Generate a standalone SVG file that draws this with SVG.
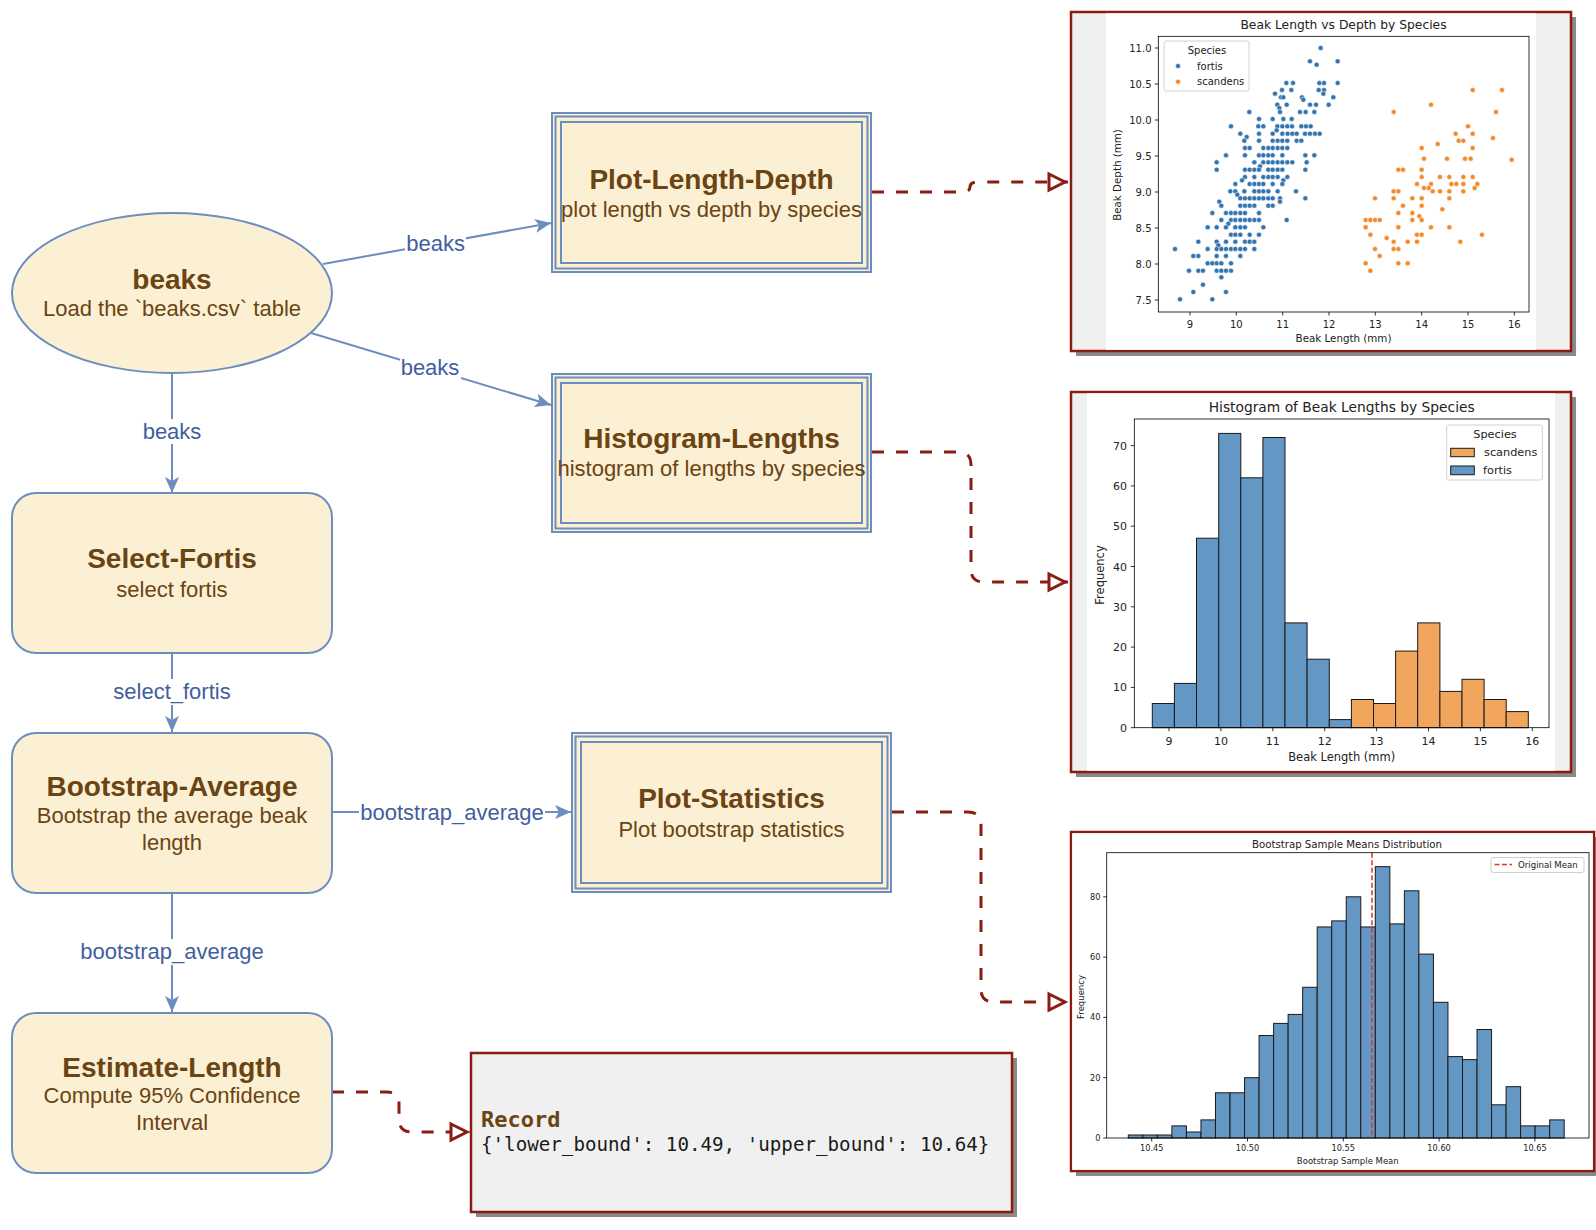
<svg xmlns="http://www.w3.org/2000/svg" width="1596" height="1230" viewBox="0 0 1596 1230">
<defs>
<style>
.nf{fill:#fcf0d4;stroke:#6c8ebf;stroke-width:2}
.nl{fill:none;stroke:#6c8ebf;stroke-width:2}
.t{font-family:"Liberation Sans",Arial,sans-serif;fill:#6b4413;text-anchor:middle}
.tb{font-size:28px;font-weight:bold}
.ts{font-size:22px}
.el{font-family:"Liberation Sans",Arial,sans-serif;font-size:22px;fill:#3f5f9f;text-anchor:middle}
.lb{fill:#fff}
.e{fill:none;stroke:#6c8ebf;stroke-width:2}
.d{fill:none;stroke:#8b1c13;stroke-width:3;stroke-dasharray:12 12}
.fr{fill:#f0f0f0;stroke:#8b1c13;stroke-width:2.5}
.sh{fill:#8a8a8a}
.m{font-family:"DejaVu Sans",sans-serif;fill:#222}
.ax{fill:none;stroke:#000;stroke-width:0.8}
.bf{fill:#6497c4;stroke:#1a1a1a;stroke-width:1}
.bs{fill:#f2a55c;stroke:#1a1a1a;stroke-width:1}
.pb{fill:#3274b0;stroke:#fff;stroke-width:1.5}
.po{fill:#f28a2c;stroke:#fff;stroke-width:1.5}
.lg{fill:#fff;stroke:#d0d0d0;stroke-width:1}
</style>
<marker id="arr" markerUnits="userSpaceOnUse" viewBox="0 0 16 14" refX="16" refY="7" markerWidth="16" markerHeight="14" orient="auto"><path d="M0,0 L16,7 L0,14 L4,7 Z" fill="#6c8ebf"/></marker>
<marker id="tri" markerUnits="userSpaceOnUse" viewBox="-4 -4 26 24" refX="19" refY="8" markerWidth="26" markerHeight="24" orient="auto" overflow="visible"><path d="M0,0 L16,8 L0,16 Z" fill="#fff" stroke="#8b1c13" stroke-width="3"/></marker>
<clipPath id="cb"><rect x="1072.25" y="833.25" width="520.5" height="336.5"/></clipPath>
</defs>
<rect width="1596" height="1230" fill="#fff"/>

<!-- connectors -->
<g id="connectors">
<path class="e" d="M323,264 L551,223" marker-end="url(#arr)"/>
<path class="e" d="M311,333 L551,405" marker-end="url(#arr)"/>
<path class="e" d="M172,373 V493" marker-end="url(#arr)"/>
<path class="e" d="M172,653 V732" marker-end="url(#arr)"/>
<path class="e" d="M332,812 H571" marker-end="url(#arr)"/>
<path class="e" d="M172,893 V1012" marker-end="url(#arr)"/>
<rect class="lb" x="405" y="231" width="61" height="25"/>
<text class="el" x="435.6" y="251">beaks</text>
<rect class="lb" x="400" y="355" width="61" height="25"/>
<text class="el" x="430" y="375">beaks</text>
<rect class="lb" x="141" y="419" width="62" height="25"/>
<text class="el" x="172" y="439">beaks</text>
<rect class="lb" x="112" y="679" width="120" height="26"/>
<text class="el" x="172" y="699">select_fortis</text>
<rect class="lb" x="359" y="800" width="186" height="26"/>
<text class="el" x="452" y="820">bootstrap_average</text>
<rect class="lb" x="79" y="939" width="186" height="26"/>
<text class="el" x="172" y="959">bootstrap_average</text>
<path class="d" d="M872,192 H962 Q970,192 970,187 Q970,182 978,182 H1068" marker-end="url(#tri)"/>
<path class="d" d="M872,452 H958 Q971,452 971,465 V569 Q971,582 984,582 H1068" marker-end="url(#tri)"/>
<path class="d" d="M892,812 H968 Q981,812 981,825 V989 Q981,1002 994,1002 H1068" marker-end="url(#tri)"/>
<path class="d" d="M332,1092 H387 Q399,1092 399,1104 V1119 Q399,1132 412,1132 H470" marker-end="url(#tri)"/>
</g>

<g id="node-beaks">
<ellipse class="nf" cx="172" cy="293" rx="160" ry="80"/>
<text class="t tb" x="172" y="289">beaks</text>
<text class="t ts" x="172" y="316">Load the `beaks.csv` table</text>
</g>

<g id="node-select-fortis">
<rect class="nf" x="12" y="493" width="320" height="160" rx="24"/>
<text class="t tb" x="172" y="568">Select-Fortis</text>
<text class="t ts" x="172" y="597">select fortis</text>
</g>

<g id="node-bootstrap-average">
<rect class="nf" x="12" y="733" width="320" height="160" rx="24"/>
<text class="t tb" x="172" y="796">Bootstrap-Average</text>
<text class="t ts" x="172" y="823">Bootstrap the average beak</text>
<text class="t ts" x="172" y="850">length</text>
</g>

<g id="node-estimate-length">
<rect class="nf" x="12" y="1013" width="320" height="160" rx="24"/>
<text class="t tb" x="172" y="1077">Estimate-Length</text>
<text class="t ts" x="172" y="1103">Compute 95% Confidence</text>
<text class="t ts" x="172" y="1130">Interval</text>
</g>

<g id="node-plot-length-depth">
<rect class="nf" x="552" y="113" width="319" height="159"/>
<rect class="nl" x="555.5" y="116.5" width="312" height="152"/>
<rect class="nl" x="561" y="122" width="301" height="141"/>
<text class="t tb" x="711.5" y="189">Plot-Length-Depth</text>
<text class="t ts" x="711.5" y="217">plot length vs depth by species</text>
</g>

<g id="node-histogram-lengths">
<rect class="nf" x="552" y="374" width="319" height="158"/>
<rect class="nl" x="555.5" y="377.5" width="312" height="151"/>
<rect class="nl" x="561" y="383" width="301" height="140"/>
<text class="t tb" x="711.5" y="448">Histogram-Lengths</text>
<text class="t ts" x="711.5" y="476">histogram of lengths by species</text>
</g>

<g id="node-plot-statistics">
<rect class="nf" x="572" y="733" width="319" height="159"/>
<rect class="nl" x="575.5" y="736.5" width="312" height="152"/>
<rect class="nl" x="581" y="742" width="301" height="141"/>
<text class="t tb" x="731.5" y="808">Plot-Statistics</text>
<text class="t ts" x="731.5" y="837">Plot bootstrap statistics</text>
</g>

<g id="node-record">
<rect class="sh" x="476" y="1058" width="541" height="159"/>
<rect class="fr" x="471" y="1053" width="541" height="159"/>
<text x="481" y="1127" style="font-family:'DejaVu Sans Mono',monospace;font-size:22px;font-weight:bold;fill:#6b4413">Record</text>
<text x="481" y="1151" style="font-family:'DejaVu Sans Mono',monospace;font-size:19.2px;fill:#1a1a1a">{'lower_bound': 10.49, 'upper_bound': 10.64}</text>
</g>

<g id="node-scatter-plot">
<rect class="sh" x="1076" y="17" width="500" height="339"/>
<rect class="fr" x="1071" y="12" width="500" height="339"/>
<rect fill="#fff" x="1106" y="13.3" width="430" height="336.4"/>
<text class="m" x="1343.5" y="29" font-size="12.3" text-anchor="middle">Beak Length vs Depth by Species</text>
<g transform="translate(1050,8) scale(0.333333)">
<g class="pb">
<circle cx="812" cy="120" r="7.5"/><circle cx="780" cy="160" r="7.5"/><circle cx="863" cy="160" r="7.5"/><circle cx="800" cy="170" r="7.5"/>
<circle cx="709" cy="225" r="7.5"/><circle cx="729" cy="225" r="7.5"/><circle cx="808" cy="225" r="7.5"/><circle cx="822" cy="225" r="7.5"/><circle cx="863" cy="225" r="7.5"/>
<circle cx="696" cy="246" r="7.5"/><circle cx="724" cy="246" r="7.5"/><circle cx="806" cy="246" r="7.5"/><circle cx="822" cy="246" r="7.5"/>
<circle cx="675" cy="257" r="7.5"/><circle cx="820" cy="257" r="7.5"/>
<circle cx="693" cy="268" r="7.5"/><circle cx="700" cy="268" r="7.5"/><circle cx="756" cy="268" r="7.5"/><circle cx="850" cy="268" r="7.5"/><circle cx="760" cy="275" r="7.5"/>
<circle cx="682" cy="290" r="7.5"/><circle cx="710" cy="290" r="7.5"/><circle cx="780" cy="290" r="7.5"/><circle cx="798" cy="290" r="7.5"/><circle cx="836" cy="290" r="7.5"/><circle cx="688" cy="300" r="7.5"/>
<circle cx="598" cy="312" r="7.5"/><circle cx="690" cy="312" r="7.5"/><circle cx="750" cy="312" r="7.5"/><circle cx="767" cy="312" r="7.5"/><circle cx="793" cy="312" r="7.5"/>
<circle cx="627" cy="333" r="7.5"/><circle cx="668" cy="333" r="7.5"/><circle cx="700" cy="333" r="7.5"/><circle cx="725" cy="333" r="7.5"/>
<circle cx="543" cy="355" r="7.5"/><circle cx="625" cy="355" r="7.5"/><circle cx="640" cy="355" r="7.5"/><circle cx="682" cy="355" r="7.5"/><circle cx="697" cy="355" r="7.5"/><circle cx="712" cy="355" r="7.5"/><circle cx="726" cy="355" r="7.5"/><circle cx="754" cy="355" r="7.5"/><circle cx="768" cy="355" r="7.5"/><circle cx="782" cy="355" r="7.5"/><circle cx="680" cy="367" r="7.5"/>
<circle cx="571" cy="377" r="7.5"/><circle cx="627" cy="377" r="7.5"/><circle cx="668" cy="377" r="7.5"/><circle cx="697" cy="377" r="7.5"/><circle cx="713" cy="377" r="7.5"/><circle cx="727" cy="377" r="7.5"/><circle cx="740" cy="377" r="7.5"/><circle cx="765" cy="377" r="7.5"/><circle cx="780" cy="377" r="7.5"/><circle cx="795" cy="377" r="7.5"/><circle cx="809" cy="377" r="7.5"/><circle cx="590" cy="387" r="7.5"/>
<circle cx="583" cy="398" r="7.5"/><circle cx="627" cy="398" r="7.5"/><circle cx="668" cy="398" r="7.5"/><circle cx="683" cy="398" r="7.5"/><circle cx="697" cy="398" r="7.5"/><circle cx="712" cy="398" r="7.5"/><circle cx="740" cy="398" r="7.5"/><circle cx="754" cy="398" r="7.5"/>
<circle cx="585" cy="420" r="7.5"/><circle cx="599" cy="420" r="7.5"/><circle cx="640" cy="420" r="7.5"/><circle cx="655" cy="420" r="7.5"/><circle cx="668" cy="420" r="7.5"/><circle cx="683" cy="420" r="7.5"/><circle cx="697" cy="420" r="7.5"/><circle cx="712" cy="420" r="7.5"/>
<circle cx="528" cy="442" r="7.5"/><circle cx="585" cy="442" r="7.5"/><circle cx="627" cy="442" r="7.5"/><circle cx="640" cy="442" r="7.5"/><circle cx="655" cy="442" r="7.5"/><circle cx="668" cy="442" r="7.5"/><circle cx="697" cy="442" r="7.5"/><circle cx="766" cy="442" r="7.5"/><circle cx="793" cy="442" r="7.5"/>
<circle cx="500" cy="463" r="7.5"/><circle cx="613" cy="463" r="7.5"/><circle cx="640" cy="463" r="7.5"/><circle cx="655" cy="463" r="7.5"/><circle cx="668" cy="463" r="7.5"/><circle cx="683" cy="463" r="7.5"/><circle cx="697" cy="463" r="7.5"/><circle cx="712" cy="463" r="7.5"/><circle cx="727" cy="463" r="7.5"/><circle cx="770" cy="463" r="7.5"/><circle cx="630" cy="475" r="7.5"/>
<circle cx="500" cy="485" r="7.5"/><circle cx="585" cy="485" r="7.5"/><circle cx="599" cy="485" r="7.5"/><circle cx="613" cy="485" r="7.5"/><circle cx="627" cy="485" r="7.5"/><circle cx="655" cy="485" r="7.5"/><circle cx="668" cy="485" r="7.5"/><circle cx="683" cy="485" r="7.5"/><circle cx="697" cy="485" r="7.5"/><circle cx="766" cy="485" r="7.5"/>
<circle cx="585" cy="507" r="7.5"/><circle cx="613" cy="507" r="7.5"/><circle cx="640" cy="507" r="7.5"/><circle cx="655" cy="507" r="7.5"/><circle cx="668" cy="507" r="7.5"/><circle cx="683" cy="507" r="7.5"/><circle cx="712" cy="507" r="7.5"/><circle cx="576" cy="517" r="7.5"/><circle cx="700" cy="517" r="7.5"/>
<circle cx="556" cy="528" r="7.5"/><circle cx="599" cy="528" r="7.5"/><circle cx="613" cy="528" r="7.5"/><circle cx="627" cy="528" r="7.5"/><circle cx="640" cy="528" r="7.5"/><circle cx="668" cy="528" r="7.5"/><circle cx="697" cy="528" r="7.5"/>
<circle cx="541" cy="550" r="7.5"/><circle cx="556" cy="550" r="7.5"/><circle cx="583" cy="550" r="7.5"/><circle cx="613" cy="550" r="7.5"/><circle cx="627" cy="550" r="7.5"/><circle cx="640" cy="550" r="7.5"/><circle cx="655" cy="550" r="7.5"/><circle cx="683" cy="550" r="7.5"/><circle cx="738" cy="550" r="7.5"/><circle cx="562" cy="560" r="7.5"/>
<circle cx="571" cy="571" r="7.5"/><circle cx="585" cy="571" r="7.5"/><circle cx="599" cy="571" r="7.5"/><circle cx="613" cy="571" r="7.5"/><circle cx="627" cy="571" r="7.5"/><circle cx="640" cy="571" r="7.5"/><circle cx="655" cy="571" r="7.5"/><circle cx="668" cy="571" r="7.5"/><circle cx="690" cy="571" r="7.5"/><circle cx="766" cy="571" r="7.5"/><circle cx="508" cy="581" r="7.5"/><circle cx="690" cy="581" r="7.5"/>
<circle cx="514" cy="593" r="7.5"/><circle cx="571" cy="593" r="7.5"/><circle cx="585" cy="593" r="7.5"/><circle cx="599" cy="593" r="7.5"/><circle cx="613" cy="593" r="7.5"/><circle cx="655" cy="593" r="7.5"/><circle cx="668" cy="593" r="7.5"/>
<circle cx="487" cy="615" r="7.5"/><circle cx="528" cy="615" r="7.5"/><circle cx="543" cy="615" r="7.5"/><circle cx="556" cy="615" r="7.5"/><circle cx="571" cy="615" r="7.5"/><circle cx="585" cy="615" r="7.5"/><circle cx="627" cy="615" r="7.5"/>
<circle cx="514" cy="636" r="7.5"/><circle cx="543" cy="636" r="7.5"/><circle cx="556" cy="636" r="7.5"/><circle cx="571" cy="636" r="7.5"/><circle cx="585" cy="636" r="7.5"/><circle cx="599" cy="636" r="7.5"/><circle cx="613" cy="636" r="7.5"/><circle cx="627" cy="636" r="7.5"/><circle cx="710" cy="636" r="7.5"/><circle cx="535" cy="647" r="7.5"/>
<circle cx="473" cy="658" r="7.5"/><circle cx="500" cy="658" r="7.5"/><circle cx="528" cy="658" r="7.5"/><circle cx="556" cy="658" r="7.5"/><circle cx="571" cy="658" r="7.5"/><circle cx="585" cy="658" r="7.5"/><circle cx="640" cy="658" r="7.5"/>
<circle cx="543" cy="680" r="7.5"/><circle cx="556" cy="680" r="7.5"/><circle cx="571" cy="680" r="7.5"/><circle cx="599" cy="680" r="7.5"/><circle cx="627" cy="680" r="7.5"/>
<circle cx="445" cy="701" r="7.5"/><circle cx="500" cy="701" r="7.5"/><circle cx="528" cy="701" r="7.5"/><circle cx="556" cy="701" r="7.5"/><circle cx="585" cy="701" r="7.5"/><circle cx="599" cy="701" r="7.5"/><circle cx="613" cy="701" r="7.5"/><circle cx="505" cy="712" r="7.5"/>
<circle cx="375" cy="723" r="7.5"/><circle cx="473" cy="723" r="7.5"/><circle cx="500" cy="723" r="7.5"/><circle cx="514" cy="723" r="7.5"/><circle cx="528" cy="723" r="7.5"/><circle cx="543" cy="723" r="7.5"/><circle cx="556" cy="723" r="7.5"/><circle cx="571" cy="723" r="7.5"/><circle cx="585" cy="723" r="7.5"/><circle cx="613" cy="723" r="7.5"/>
<circle cx="430" cy="744" r="7.5"/><circle cx="445" cy="744" r="7.5"/><circle cx="500" cy="744" r="7.5"/><circle cx="528" cy="744" r="7.5"/><circle cx="571" cy="744" r="7.5"/>
<circle cx="473" cy="766" r="7.5"/><circle cx="487" cy="766" r="7.5"/><circle cx="500" cy="766" r="7.5"/><circle cx="514" cy="766" r="7.5"/><circle cx="543" cy="766" r="7.5"/>
<circle cx="417" cy="788" r="7.5"/><circle cx="445" cy="788" r="7.5"/><circle cx="459" cy="788" r="7.5"/><circle cx="500" cy="788" r="7.5"/><circle cx="514" cy="788" r="7.5"/><circle cx="528" cy="788" r="7.5"/><circle cx="543" cy="788" r="7.5"/><circle cx="514" cy="808" r="7.5"/>
<circle cx="459" cy="830" r="7.5"/><circle cx="430" cy="852" r="7.5"/><circle cx="528" cy="852" r="7.5"/><circle cx="390" cy="874" r="7.5"/><circle cx="487" cy="874" r="7.5"/>
</g>
<g class="po">
<circle cx="1268" cy="246" r="7.5"/><circle cx="1356" cy="246" r="7.5"/><circle cx="1143" cy="290" r="7.5"/><circle cx="1031" cy="312" r="7.5"/><circle cx="1338" cy="312" r="7.5"/>
<circle cx="1254" cy="355" r="7.5"/><circle cx="1217" cy="377" r="7.5"/><circle cx="1268" cy="377" r="7.5"/><circle cx="1329" cy="390" r="7.5"/><circle cx="1226" cy="398" r="7.5"/><circle cx="1240" cy="398" r="7.5"/><circle cx="1163" cy="408" r="7.5"/>
<circle cx="1115" cy="420" r="7.5"/><circle cx="1268" cy="420" r="7.5"/>
<circle cx="1122" cy="452" r="7.5"/><circle cx="1191" cy="452" r="7.5"/><circle cx="1245" cy="452" r="7.5"/><circle cx="1262" cy="452" r="7.5"/><circle cx="1385" cy="455" r="7.5"/>
<circle cx="1045" cy="485" r="7.5"/><circle cx="1059" cy="485" r="7.5"/><circle cx="1115" cy="485" r="7.5"/>
<circle cx="1115" cy="507" r="7.5"/><circle cx="1170" cy="507" r="7.5"/><circle cx="1198" cy="507" r="7.5"/><circle cx="1240" cy="507" r="7.5"/><circle cx="1268" cy="507" r="7.5"/>
<circle cx="1101" cy="528" r="7.5"/><circle cx="1143" cy="528" r="7.5"/><circle cx="1204" cy="528" r="7.5"/><circle cx="1219" cy="528" r="7.5"/><circle cx="1240" cy="528" r="7.5"/><circle cx="1282" cy="528" r="7.5"/>
<circle cx="1122" cy="540" r="7.5"/><circle cx="1136" cy="540" r="7.5"/><circle cx="1274" cy="540" r="7.5"/>
<circle cx="1031" cy="550" r="7.5"/><circle cx="1045" cy="550" r="7.5"/><circle cx="1148" cy="550" r="7.5"/><circle cx="1170" cy="550" r="7.5"/><circle cx="1198" cy="550" r="7.5"/><circle cx="1240" cy="550" r="7.5"/>
<circle cx="975" cy="571" r="7.5"/><circle cx="1031" cy="571" r="7.5"/><circle cx="1087" cy="571" r="7.5"/><circle cx="1115" cy="571" r="7.5"/><circle cx="1198" cy="571" r="7.5"/>
<circle cx="1059" cy="593" r="7.5"/><circle cx="1115" cy="593" r="7.5"/><circle cx="1177" cy="604" r="7.5"/><circle cx="1045" cy="615" r="7.5"/><circle cx="1087" cy="615" r="7.5"/><circle cx="1108" cy="625" r="7.5"/>
<circle cx="947" cy="636" r="7.5"/><circle cx="961" cy="636" r="7.5"/><circle cx="975" cy="636" r="7.5"/><circle cx="989" cy="636" r="7.5"/><circle cx="1087" cy="636" r="7.5"/><circle cx="1115" cy="636" r="7.5"/>
<circle cx="947" cy="658" r="7.5"/><circle cx="1045" cy="658" r="7.5"/><circle cx="1143" cy="658" r="7.5"/><circle cx="1198" cy="658" r="7.5"/>
<circle cx="961" cy="680" r="7.5"/><circle cx="1101" cy="680" r="7.5"/><circle cx="1115" cy="680" r="7.5"/><circle cx="1296" cy="680" r="7.5"/><circle cx="1010" cy="690" r="7.5"/>
<circle cx="1031" cy="701" r="7.5"/><circle cx="1073" cy="701" r="7.5"/><circle cx="1101" cy="701" r="7.5"/><circle cx="1231" cy="701" r="7.5"/>
<circle cx="975" cy="723" r="7.5"/><circle cx="1031" cy="723" r="7.5"/><circle cx="1045" cy="723" r="7.5"/><circle cx="989" cy="744" r="7.5"/>
<circle cx="947" cy="766" r="7.5"/><circle cx="1045" cy="766" r="7.5"/><circle cx="1073" cy="766" r="7.5"/><circle cx="961" cy="788" r="7.5"/>
</g>
</g>
<rect class="ax" x="1158.3" y="36.3" width="370.7" height="275.7"/>
<path class="ax" d="M1158.3,48h-3.5M1158.3,84h-3.5M1158.3,120h-3.5M1158.3,156h-3.5M1158.3,192h-3.5M1158.3,228h-3.5M1158.3,264h-3.5M1158.3,300h-3.5M1190,312v3.5M1236.3,312v3.5M1282.7,312v3.5M1329,312v3.5M1375.3,312v3.5M1421.7,312v3.5M1468,312v3.5M1514.3,312v3.5"/>
<g class="m" font-size="10" text-anchor="end">
<text x="1151.5" y="51.6">11.0</text><text x="1151.5" y="87.6">10.5</text><text x="1151.5" y="123.6">10.0</text><text x="1151.5" y="159.6">9.5</text><text x="1151.5" y="195.6">9.0</text><text x="1151.5" y="231.6">8.5</text><text x="1151.5" y="267.6">8.0</text><text x="1151.5" y="303.6">7.5</text>
</g>
<g class="m" font-size="10" text-anchor="middle">
<text x="1190" y="327.5">9</text><text x="1236.3" y="327.5">10</text><text x="1282.7" y="327.5">11</text><text x="1329" y="327.5">12</text><text x="1375.3" y="327.5">13</text><text x="1421.7" y="327.5">14</text><text x="1468" y="327.5">15</text><text x="1514.3" y="327.5">16</text>
</g>
<text class="m" x="1343.5" y="342" font-size="10.3" text-anchor="middle">Beak Length (mm)</text>
<text class="m" transform="translate(1120.5,175) rotate(-90)" font-size="10.3" text-anchor="middle">Beak Depth (mm)</text>
<rect class="lg" x="1164" y="41" width="85" height="50" rx="2"/>
<text class="m" x="1207" y="53.5" font-size="10" text-anchor="middle">Species</text>
<circle class="pb" cx="1178" cy="66" r="2.5" style="stroke-width:0.5"/>
<circle class="po" cx="1178" cy="81.7" r="2.5" style="stroke-width:0.5"/>
<text class="m" x="1197" y="69.5" font-size="10">fortis</text>
<text class="m" x="1197" y="85.2" font-size="10">scandens</text>
</g>

<g id="node-histogram-plot">
<rect class="sh" x="1076" y="397" width="500" height="380"/>
<rect class="fr" x="1071" y="392" width="500" height="380"/>
<rect fill="#fff" x="1087" y="393.3" width="468" height="377.4"/>
<text class="m" x="1341.7" y="411.5" font-size="13.8" text-anchor="middle">Histogram of Beak Lengths by Species</text>
<g class="bf">
<rect x="1152.3" y="703.5" width="22.1" height="24.2"/><rect x="1174.4" y="683.4" width="22.1" height="44.3"/><rect x="1196.5" y="538.2" width="22.2" height="189.5"/><rect x="1218.7" y="433.4" width="22.1" height="294.3"/><rect x="1240.8" y="477.8" width="22.1" height="249.9"/><rect x="1262.9" y="437.5" width="22.1" height="290.2"/><rect x="1285" y="622.9" width="22.1" height="104.8"/><rect x="1307.1" y="659.2" width="22.2" height="68.5"/><rect x="1329.3" y="719.6" width="22.1" height="8.1"/>
</g>
<g class="bs">
<rect x="1351.4" y="699.5" width="22.1" height="28.2"/><rect x="1373.5" y="703.5" width="22.1" height="24.2"/><rect x="1395.6" y="651.1" width="22.1" height="76.6"/><rect x="1417.7" y="622.9" width="22.2" height="104.8"/><rect x="1439.9" y="691.4" width="22.1" height="36.3"/><rect x="1462" y="679.3" width="22.1" height="48.4"/><rect x="1484.1" y="699.5" width="22.1" height="28.2"/><rect x="1506.2" y="711.6" width="22.1" height="16.1"/>
</g>
<rect class="ax" x="1134.3" y="419" width="414.7" height="308.7"/>
<path class="ax" d="M1134.3,727.7h-3.5M1134.3,687.4h-3.5M1134.3,647.1h-3.5M1134.3,606.8h-3.5M1134.3,566.5h-3.5M1134.3,526.2h-3.5M1134.3,485.9h-3.5M1134.3,445.6h-3.5M1169,727.7v3.5M1220.9,727.7v3.5M1272.8,727.7v3.5M1324.7,727.7v3.5M1376.6,727.7v3.5M1428.5,727.7v3.5M1480.4,727.7v3.5M1532.3,727.7v3.5"/>
<g class="m" font-size="11" text-anchor="end">
<text x="1127" y="731.7">0</text><text x="1127" y="691.4">10</text><text x="1127" y="651.1">20</text><text x="1127" y="610.8">30</text><text x="1127" y="570.5">40</text><text x="1127" y="530.2">50</text><text x="1127" y="489.9">60</text><text x="1127" y="449.6">70</text>
</g>
<g class="m" font-size="11" text-anchor="middle">
<text x="1169" y="745">9</text><text x="1220.9" y="745">10</text><text x="1272.8" y="745">11</text><text x="1324.7" y="745">12</text><text x="1376.6" y="745">13</text><text x="1428.5" y="745">14</text><text x="1480.4" y="745">15</text><text x="1532.3" y="745">16</text>
</g>
<text class="m" x="1341.7" y="761" font-size="11.5" text-anchor="middle">Beak Length (mm)</text>
<text class="m" transform="translate(1104,575) rotate(-90)" font-size="11.5" text-anchor="middle">Frequency</text>
<rect class="lg" x="1446.7" y="425" width="95.6" height="55" rx="2"/>
<text class="m" x="1495" y="438.3" font-size="11.3" text-anchor="middle">Species</text>
<rect class="bs" x="1450.7" y="448.3" width="23.6" height="8.4"/>
<rect class="bf" x="1450.7" y="466" width="23.6" height="8.7"/>
<text class="m" x="1484" y="456.3" font-size="11.3">scandens</text>
<text class="m" x="1483" y="474.2" font-size="11.3">fortis</text>
</g>

<g id="node-bootstrap-plot">
<rect class="sh" x="1076" y="837" width="523" height="339"/>
<rect class="fr" x="1071" y="832" width="523" height="339"/>
<g clip-path="url(#cb)">
<rect fill="#fff" x="1072" y="833" width="522" height="338"/>
<text class="m" x="1347" y="847.5" font-size="10.2" text-anchor="middle">Bootstrap Sample Means Distribution</text>
<g class="bf">
<rect x="1128.3" y="1135" width="14.53" height="3"/><rect x="1142.83" y="1135" width="14.53" height="3"/><rect x="1157.36" y="1135" width="14.53" height="3"/><rect x="1171.89" y="1125.9" width="14.53" height="12.1"/><rect x="1186.42" y="1132" width="14.53" height="6"/><rect x="1200.95" y="1119.9" width="14.53" height="18.1"/><rect x="1215.48" y="1092.8" width="14.53" height="45.2"/><rect x="1230.01" y="1092.8" width="14.53" height="45.2"/><rect x="1244.54" y="1077.7" width="14.53" height="60.3"/><rect x="1259.07" y="1035.5" width="14.53" height="102.5"/>
<rect x="1273.6" y="1023.4" width="14.53" height="114.6"/><rect x="1288.13" y="1014.4" width="14.53" height="123.6"/><rect x="1302.66" y="987.25" width="14.53" height="150.75"/><rect x="1317.19" y="926.95" width="14.53" height="211.05"/><rect x="1331.72" y="920.9" width="14.53" height="217.1"/><rect x="1346.25" y="896.8" width="14.53" height="241.2"/><rect x="1360.78" y="926.95" width="14.53" height="211.05"/><rect x="1375.31" y="866.65" width="14.53" height="271.35"/><rect x="1389.84" y="923.9" width="14.53" height="214.1"/><rect x="1404.37" y="890.8" width="14.53" height="247.2"/>
<rect x="1418.9" y="954.1" width="14.53" height="183.9"/><rect x="1433.43" y="1002.3" width="14.53" height="135.7"/><rect x="1447.96" y="1056.6" width="14.53" height="81.4"/><rect x="1462.49" y="1059.6" width="14.53" height="78.4"/><rect x="1477.02" y="1029.5" width="14.53" height="108.5"/><rect x="1491.55" y="1104.8" width="14.53" height="33.2"/><rect x="1506.08" y="1086.7" width="14.53" height="51.3"/><rect x="1520.61" y="1125.9" width="14.53" height="12.1"/><rect x="1535.14" y="1125.9" width="14.53" height="12.1"/><rect x="1549.67" y="1119.9" width="14.53" height="18.1"/>
</g>
<path d="M1372,852.7V1138" fill="none" stroke="#e4322b" stroke-width="1.5" stroke-dasharray="5 2.5"/>
<rect class="ax" x="1106.7" y="852.7" width="482.3" height="285.3"/>
<path class="ax" d="M1106.7,1138h-3.5M1106.7,1077.7h-3.5M1106.7,1017.4h-3.5M1106.7,957.1h-3.5M1106.7,896.8h-3.5M1151.7,1138v3.5M1247.5,1138v3.5M1343.3,1138v3.5M1439.1,1138v3.5M1534.9,1138v3.5"/>
<g class="m" font-size="8.2" text-anchor="end">
<text x="1100.5" y="1141">0</text><text x="1100.5" y="1080.7">20</text><text x="1100.5" y="1020.4">40</text><text x="1100.5" y="960.1">60</text><text x="1100.5" y="899.8">80</text>
</g>
<g class="m" font-size="8.2" text-anchor="middle">
<text x="1151.7" y="1151">10.45</text><text x="1247.5" y="1151">10.50</text><text x="1343.3" y="1151">10.55</text><text x="1439.1" y="1151">10.60</text><text x="1534.9" y="1151">10.65</text>
</g>
<text class="m" x="1347.8" y="1164" font-size="8.5" text-anchor="middle">Bootstrap Sample Mean</text>
<text class="m" transform="translate(1084,997) rotate(-90)" font-size="8.5" text-anchor="middle">Frequency</text>
<rect class="lg" x="1491" y="857.5" width="93" height="15" rx="2"/>
<path d="M1494.5,864.5H1512" fill="none" stroke="#e4322b" stroke-width="1.5" stroke-dasharray="5 2.5"/>
<text class="m" x="1518" y="867.5" font-size="8.6">Original Mean</text>
</g>
</g>
</svg>
